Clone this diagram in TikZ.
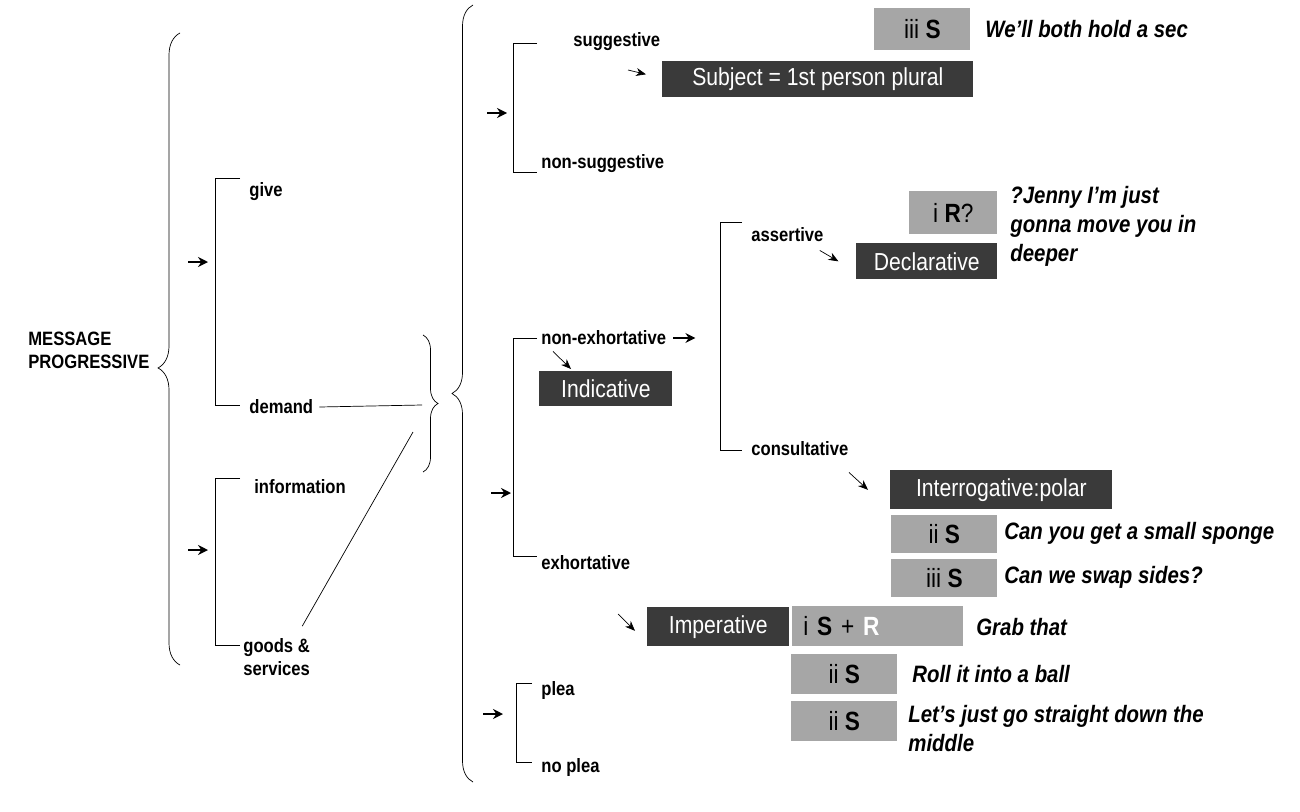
\documentclass[tikz,border=0pt]{standalone}
\usepackage{fontspec}
\setmainfont[FakeStretch=0.86]{Liberation Sans}
\usetikzlibrary{arrows.meta, decorations.pathreplacing}
\definecolor{darkbox}{HTML}{3A3A3A}
\definecolor{lightbox}{HTML}{A6A6A6}
\begin{document}
\begin{tikzpicture}[
    x=0.02cm, y=-0.02cm,
    lab/.style = {anchor=west, font=\fontsize{11}{13}\selectfont\bfseries, inner sep=0pt, align=left},
    quote/.style = {anchor=west, font=\fontsize{13.5}{16.5}\selectfont\bfseries\itshape, inner sep=0pt, align=left},
    dbox/.style = {anchor=north west, fill=darkbox, text=white, font=\fontsize{14}{16}\selectfont,
                   inner xsep=0.22cm, inner ysep=0pt, align=left},
    lbox/.style = {anchor=north west, fill=lightbox, text=black, font=\fontsize{15}{16}\selectfont,
                   inner xsep=0.2cm, inner ysep=0pt, align=left},
    brk/.style = {thin},
    arrow/.style = {thick, -{Stealth[length=2mm,width=2mm]}},
    small/.style = {-{Stealth[length=2mm,width=1.6mm]}},
    curly/.style = {decorate, decoration={brace, amplitude=#1}, thin}
  ]
  \useasboundingbox (0,0) rectangle (1300,811);
  \clip (0,0) rectangle (1300,811);

  % entry condition and big braces
  \node[lab] (msg) at (28,350) {MESSAGE\\PROGRESSIVE};
  \draw[curly=0.44cm, decoration={aspect=0.47}] (180,665) -- (180,33);
  \draw[curly=0.42cm] (473,782) -- (473,5);
  \draw[curly=0.3cm] (423,335) -- (423,472);

  % speech role and commodity systems
  \node[lab] (give) at (249,192) {give};
  \node[lab] (demand) at (249,407) {demand};
  \node[lab] (info) at (254,487) {information};
  \node[lab] (goods) at (243,657) {goods \&\\services};
  \draw[brk] (240,178) -- (215,178) -- (215,405) -- (240,405);
  \draw[brk] (240,478) -- (215,478) -- (215,645) -- (240,645);
  \coordinate (a1) at (188,262);
  \coordinate (a2) at (188,550);
  \draw[arrow] (a1) -- ++(20,0);
  \draw[arrow] (a2) -- ++(20,0);
  \coordinate (demandend) at (422,405);
  \coordinate (goodsend) at (413,432);
  \draw (demand.east) ++(6,0) -- (demandend);
  \draw ([shift={(-8,-12)}]goods.north east) -- (goodsend);

  % suggestive
  \node[lab] (sugg) at (573,42) {suggestive};
  \node[lab] (nonsugg) at (541,164) {non-suggestive};
  \draw[brk] (537,43) -- (513,43) -- (513,172) -- (537,172);
  \coordinate (a3) at (487,113);
  \draw[arrow] (a3) -- ++(20,0);
  \node[lbox, minimum width=1.92cm, minimum height=0.84cm] (iiiS1) at (874,8) {iii \textbf{S}};
  \node[quote] (q1) at (985,29) {We’ll both hold a sec};
  \node[dbox, minimum width=6.22cm, minimum height=0.72cm] (subj) at (662,61) {Subject = 1st person plural};
  \coordinate (s1) at (628,70);
  \draw[small] (s1) -- ([shift={(-16,-5)}]subj.west);

  % exhortative
  \node[lab] (nonexh) at (541,338) {non-exhortative};
  \node[lab] (exh) at (541,563) {exhortative};
  \draw[brk] (537,338) -- (513,338) -- (513,556) -- (537,556);
  \coordinate (a4) at (491,493);
  \draw[arrow] (a4) -- ++(20,0);
  \draw[arrow] ([xshift=4]nonexh.east) -- ++(22,0);
  \node[dbox, minimum width=2.66cm, minimum height=0.7cm] (indic) at (539,371) {Indicative};
  \draw[small] ([shift={(12,6)}]nonexh.south west) -- ([shift={(32,-2)}]indic.north west);

  % assertive / consultative
  \node[lab] (assert) at (751,235) {assertive};
  \node[lab] (consult) at (751,449) {consultative};
  \draw[brk] (742,222) -- (720,222) -- (720,450) -- (742,450);
  \node[lbox, minimum width=1.76cm, minimum height=0.86cm] (iR) at (909,191) {i \textbf{R}?};
  \node[dbox, minimum width=2.82cm, minimum height=0.72cm] (decl) at (856,243) {Declarative};
  \draw[small] ([shift={(-4,8)}]assert.south east) -- ([xshift=-10]decl.west);
  \node[quote, anchor=north west] (q2) at (1010,186) {?Jenny I’m just\\gonna move you in\\deeper};

  \node[dbox, minimum width=4.44cm, minimum height=0.78cm] (interr) at (890,470) {Interrogative:polar};
  \draw[small] ([shift={(98,16)}]consult.south west) -- ([shift={(-22,0)}]interr.west);
  \node[lbox, minimum width=2.12cm, minimum height=0.76cm] (iiS1) at (891,515) {ii \textbf{S}};
  \node[quote] (q3) at (1004,533) {Can you get a small sponge};
  \node[lbox, minimum width=2.12cm, minimum height=0.76cm] (iiiS2) at (891,559) {iii \textbf{S}};
  \node[quote] (q4) at (1004,577) {Can we swap sides?};

  % imperative
  \node[dbox, minimum width=2.84cm, minimum height=0.78cm] (imper) at (647,607) {Imperative};
  \coordinate (s4) at (618,614);
  \draw[small] (s4) -- ([shift={(-12,4)}]imper.west);
  \node[lbox, minimum width=3.42cm, minimum height=0.8cm, text width=2.98cm] (iSR) at (792,606) {i \textbf{S} + \textbf{\textcolor{white}{R}}};
  \node[quote] (q5) at (976,627) {Grab that};
  \node[lbox, minimum width=2.12cm, minimum height=0.8cm] (iiS2) at (791,654) {ii \textbf{S}};
  \node[quote] (q6) at (912,674) {Roll it into a ball};
  \node[lbox, minimum width=2.12cm, minimum height=0.8cm] (iiS3) at (791,701) {ii \textbf{S}};
  \node[quote, anchor=north west] (q7) at (908,705) {Let’s just go straight down the\\middle};

  % plea
  \node[lab] (plea) at (541,690) {plea};
  \node[lab] (noplea) at (541,767) {no plea};
  \draw[brk] (532,683) -- (516,683) -- (516,762) -- (532,762);
  \coordinate (a5) at (483,714);
  \draw[arrow] (a5) -- ++(20,0);
\end{tikzpicture}
\end{document}
